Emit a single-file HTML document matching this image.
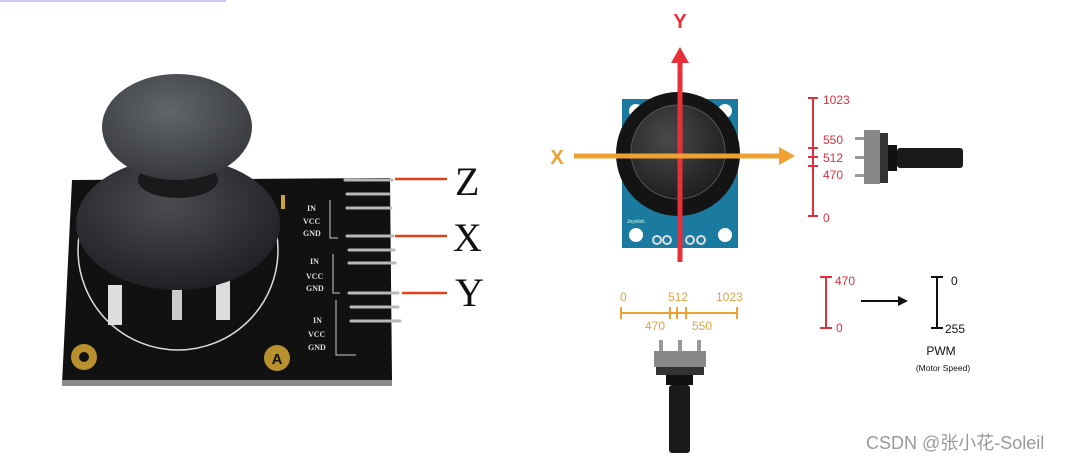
<!DOCTYPE html>
<html><head><meta charset="utf-8"><style>
html,body{margin:0;padding:0;background:#fff;width:1080px;height:461px;overflow:hidden}
svg{display:block}
</style></head><body>
<svg width="1080" height="461" viewBox="0 0 1080 461" xmlns="http://www.w3.org/2000/svg" font-family="Liberation Sans, sans-serif">
<defs>
<radialGradient id="knob" cx="0.45" cy="0.35" r="0.7"><stop offset="0" stop-color="#62656a"/><stop offset="1" stop-color="#34363a"/></radialGradient>
<radialGradient id="dome" cx="0.45" cy="0.35" r="0.7"><stop offset="0" stop-color="#4a4c50"/><stop offset="1" stop-color="#1c1d20"/></radialGradient>
<radialGradient id="cap" cx="0.4" cy="0.35" r="0.7"><stop offset="0" stop-color="#4a4a4a"/><stop offset="1" stop-color="#1d1d1d"/></radialGradient>
<clipPath id="bd"><path d="M72 180 L390 178 L392 380 L62 384 Z"/></clipPath>
</defs>
<rect x="0" y="0" width="226" height="2" fill="#c8c8f4"/>
<!-- left board -->
<path d="M72 180 L390 178 L392 380 L62 384 Z" fill="#111"/>
<rect x="62" y="380" width="330" height="6" fill="#8a8a8a"/>
<circle cx="178" cy="250" r="100" fill="none" stroke="#ddd" stroke-width="1.5" clip-path="url(#bd)"/>
<rect x="108" y="285" width="14" height="40" fill="#ddd"/>
<rect x="216" y="280" width="14" height="40" fill="#ddd"/>
<rect x="172" y="290" width="10" height="30" fill="#ccc"/>
<circle cx="84" cy="357" r="13" fill="#b8902e"/><circle cx="84" cy="357" r="5" fill="#111"/>
<circle cx="277" cy="358" r="13" fill="#b8902e"/><text x="277" y="364" font-size="15" text-anchor="middle" fill="#111" font-weight="bold">A</text>
<rect x="281" y="195" width="4" height="14" fill="#c9a63c"/>
<g font-size="8" font-weight="bold" fill="#ddd" font-family="Liberation Serif, serif">
<text x="307" y="211">IN</text><text x="303" y="224">VCC</text><text x="303" y="236">GND</text>
<text x="310" y="264">IN</text><text x="306" y="279">VCC</text><text x="306" y="291">GND</text>
<text x="313" y="323">IN</text><text x="308" y="337">VCC</text><text x="308" y="350">GND</text>
</g>
<g fill="none" stroke="#ccc" stroke-width="1">
<path d="M330 200 V238 H338"/><path d="M333 254 V293 H340"/><path d="M336 300 V355 H356"/>
</g>
<g stroke="#b8b8b8" stroke-width="3" stroke-linecap="round">
<line x1="345" y1="180" x2="392" y2="180"/><line x1="347" y1="194" x2="389" y2="194"/><line x1="347" y1="208" x2="391" y2="208"/>
<line x1="347" y1="236" x2="393" y2="236"/><line x1="349" y1="250" x2="394" y2="250"/><line x1="349" y1="263" x2="395" y2="263"/>
<line x1="349" y1="293" x2="398" y2="293"/><line x1="351" y1="307" x2="398" y2="307"/><line x1="351" y1="321" x2="400" y2="321"/>
</g>
<g stroke="#e0421a" stroke-width="2.5">
<line x1="395" y1="179" x2="447" y2="179"/><line x1="395" y1="236" x2="447" y2="236"/><line x1="402" y1="293" x2="447" y2="293"/>
</g>
<g font-family="Liberation Serif, serif" font-size="40" fill="#111">
<text x="455" y="195">Z</text><text x="453" y="251">X</text><text x="455" y="306">Y</text>
</g>
<ellipse cx="178" cy="224" rx="102" ry="66" fill="url(#dome)"/>
<ellipse cx="178" cy="180" rx="40" ry="18" fill="#1a1a1c"/>
<ellipse cx="177" cy="127" rx="75" ry="53" fill="url(#knob)"/>
<!-- right: joystick module -->
<rect x="622" y="99" width="116" height="149" fill="#1a7aa0"/>
<circle cx="636" cy="111" r="7" fill="#fff"/><circle cx="725" cy="111" r="7" fill="#fff"/>
<circle cx="636" cy="235" r="7" fill="#fff"/><circle cx="725" cy="235" r="7" fill="#fff"/>
<g fill="#1a7aa0" stroke="#ddd" stroke-width="2"><circle cx="657" cy="240" r="4"/><circle cx="667" cy="240" r="4"/><circle cx="690" cy="240" r="4"/><circle cx="701" cy="240" r="4"/></g>
<text x="627" y="223" font-size="5" fill="#cfe">Joystick</text>
<circle cx="678" cy="154" r="62" fill="#141414"/>
<circle cx="678" cy="152" r="47" fill="url(#cap)" stroke="#555" stroke-width="1"/>
<line x1="680" y1="262" x2="680" y2="62" stroke="#e8303a" stroke-width="5"/>
<polygon points="680,47 671,63 689,63" fill="#e8303a"/>
<text x="680" y="28" font-size="20" font-weight="bold" fill="#e8303a" text-anchor="middle">Y</text>
<line x1="574" y1="156" x2="780" y2="156" stroke="#f0a030" stroke-width="5"/>
<polygon points="795,156 779,147 779,165" fill="#f0a030"/>
<text x="557" y="164" font-size="20" font-weight="bold" fill="#f0a030" text-anchor="middle">X</text>
<!-- right scale -->
<g stroke="#e0303c" stroke-width="2">
<line x1="813" y1="98" x2="813" y2="216"/><line x1="808" y1="98" x2="818" y2="98"/><line x1="808" y1="148" x2="818" y2="148"/>
<line x1="808" y1="157" x2="818" y2="157"/><line x1="808" y1="166" x2="818" y2="166"/><line x1="808" y1="216" x2="818" y2="216"/>
</g>
<g font-size="12" fill="#e0303c"><text x="823" y="104">1023</text><text x="823" y="144">550</text><text x="823" y="162">512</text><text x="823" y="179">470</text><text x="823" y="222">0</text></g>
<g fill="#999"><rect x="855" y="137" width="10" height="3"/><rect x="855" y="156" width="10" height="3"/><rect x="855" y="174" width="10" height="3"/></g>
<rect x="864" y="130" width="16" height="54" fill="#888"/><rect x="880" y="133" width="8" height="50" fill="#333"/>
<rect x="888" y="145" width="9" height="26" fill="#111"/><rect x="897" y="148" width="66" height="20" rx="3" fill="#1a1a1a"/>
<!-- bottom scale -->
<g stroke="#f0a030" stroke-width="2">
<line x1="621" y1="313" x2="737" y2="313"/><line x1="621" y1="307" x2="621" y2="319"/><line x1="670" y1="307" x2="670" y2="319"/>
<line x1="677" y1="307" x2="677" y2="319"/><line x1="686" y1="307" x2="686" y2="319"/><line x1="737" y1="307" x2="737" y2="319"/>
</g>
<g font-size="12" fill="#e8a040"><text x="620" y="301">0</text><text x="668" y="301">512</text><text x="716" y="301">1023</text><text x="645" y="330">470</text><text x="692" y="330">550</text></g>
<g fill="#999"><rect x="659" y="340" width="4" height="12"/><rect x="678" y="340" width="4" height="12"/><rect x="697" y="340" width="4" height="12"/></g>
<rect x="654" y="351" width="52" height="16" fill="#888"/><rect x="656" y="367" width="48" height="8" fill="#333"/>
<rect x="666" y="375" width="27" height="10" fill="#111"/><rect x="669" y="385" width="21" height="68" rx="3" fill="#1a1a1a"/>
<!-- PWM map -->
<g stroke="#e0303c" stroke-width="2"><line x1="826" y1="277" x2="826" y2="328"/><line x1="820" y1="277" x2="832" y2="277"/><line x1="820" y1="328" x2="832" y2="328"/></g>
<g font-size="12" fill="#e0303c"><text x="835" y="285">470</text><text x="836" y="332">0</text></g>
<line x1="861" y1="301" x2="900" y2="301" stroke="#111" stroke-width="2"/><polygon points="908,301 898,296 898,306" fill="#111"/>
<g stroke="#111" stroke-width="2"><line x1="937" y1="277" x2="937" y2="328"/><line x1="931" y1="277" x2="943" y2="277"/><line x1="931" y1="328" x2="943" y2="328"/></g>
<g font-size="12" fill="#111"><text x="951" y="285">0</text><text x="945" y="333">255</text></g>
<text x="941" y="355" font-size="12" fill="#111" text-anchor="middle">PWM</text>
<text x="943" y="371" font-size="8.5" fill="#111" text-anchor="middle">(Motor Speed)</text>
<text x="866" y="449" font-size="18" fill="#999" font-family="Liberation Sans, 'Noto Sans CJK SC', sans-serif">CSDN @张小花-Soleil</text>
</svg>
</body></html>
